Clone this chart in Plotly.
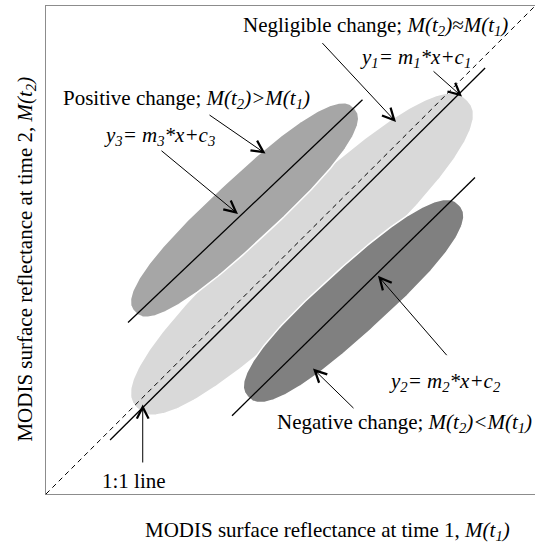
import numpy as np
import plotly.graph_objects as go

# ---- data (unit-square schematic coordinates) ----
ellipse_names = ["Negligible change", "Positive change", "Negative change"]
ellipse_cx = [0.5235, 0.4060, 0.6290]
ellipse_cy = [0.4918, 0.5820, 0.3955]
ellipse_a = [0.4625, 0.307, 0.2925]
ellipse_b = [0.095, 0.0655, 0.0670]
ellipse_deg = [43.0, 43.0, 42.3]
ellipse_colors = ["#d9d9d9", "#a6a6a6", "#808080"]
ellipse_power = 2.5

one_to_one_x = [0.0, 1.0]
one_to_one_y = [0.0, 1.0]

reg1_x = [0.131, 0.898]   # y1 = m1*x + c1
reg1_y = [0.1107, 0.873]
reg3_x = [0.1677, 0.6472]  # y3 = m3*x + c3
reg3_y = [0.3514, 0.808]
reg2_x = [0.3804, 0.8773]  # y2 = m2*x + c2
reg2_y = [0.1604, 0.6486]

label_text = [
    "Negligible change; <i>M(t</i><sub><i>2</i></sub><i>)≈M(t</i><sub><i>1</i></sub><i>)</i>",
    "<i>y</i><sub><i>1</i></sub><i>= m</i><sub><i>1</i></sub><i>*x+c</i><sub><i>1</i></sub>",
    "Positive change; <i>M(t</i><sub><i>2</i></sub><i>)>M(t</i><sub><i>1</i></sub><i>)</i>",
    "<i>y</i><sub><i>3</i></sub><i>= m</i><sub><i>3</i></sub><i>*x+c</i><sub><i>3</i></sub>",
    "<i>y</i><sub><i>2</i></sub><i>= m</i><sub><i>2</i></sub><i>*x+c</i><sub><i>2</i></sub>",
    "Negative change; <i>M(t</i><sub><i>2</i></sub><i>)<M(t</i><sub><i>1</i></sub><i>)</i>",
    "1:1 line",
]
label_x = [0.6728, 0.7546, 0.2863, 0.2331, 0.8160, 0.7321, 0.180]
label_y = [0.9598, 0.8934, 0.8094, 0.7326, 0.2305, 0.1455, 0.0266]

arrow_tail_x = [0.5624, 0.7894, 0.3313, 0.2331, 0.8221, 0.6319, 0.1978]
arrow_tail_y = [0.9270, 0.8689, 0.7787, 0.7059, 0.2814, 0.1730, 0.0615]
arrow_head_x = [0.7157, 0.8507, 0.4489, 0.3926, 0.6789, 0.5460, 0.1978]
arrow_head_y = [0.7623, 0.8143, 0.6975, 0.5738, 0.4471, 0.2570, 0.1836]

x_title = "MODIS surface reflectance at time 1, <i>M(t</i><sub><i>1</i></sub><i>)</i>"
y_title = "MODIS surface reflectance at time 2, <i>M(t</i><sub><i>2</i></sub><i>)</i>"

FONT = "Liberation Serif"
FS = 21

fig = go.Figure()

t = np.linspace(0, 2 * np.pi, 360)
ct, st = np.cos(t), np.sin(t)
pu = np.sign(ct) * np.abs(ct) ** (2 / ellipse_power)
pv = np.sign(st) * np.abs(st) ** (2 / ellipse_power)
for name, cx, cy, a, b, deg, col in zip(ellipse_names, ellipse_cx, ellipse_cy,
                                         ellipse_a, ellipse_b, ellipse_deg, ellipse_colors):
    th = np.deg2rad(deg)
    ex = cx + a * pu * np.cos(th) - b * pv * np.sin(th)
    ey = cy + a * pu * np.sin(th) + b * pv * np.cos(th)
    fig.add_trace(go.Scatter(x=ex, y=ey, mode="lines", fill="toself",
                             fillcolor=col, line=dict(width=1.5, color="white"),
                             name=name, hoverinfo="skip", showlegend=False))

fig.add_trace(go.Scatter(x=one_to_one_x, y=one_to_one_y, mode="lines",
                         line=dict(color="black", width=1, dash="5px,4px"),
                         showlegend=False, hoverinfo="skip"))
for xs, ys in [(reg1_x, reg1_y), (reg3_x, reg3_y), (reg2_x, reg2_y)]:
    fig.add_trace(go.Scatter(x=xs, y=ys, mode="lines",
                             line=dict(color="black", width=1.3),
                             showlegend=False, hoverinfo="skip"))

annotations = []
for tx, ty, hx, hy in zip(arrow_tail_x, arrow_tail_y, arrow_head_x, arrow_head_y):
    annotations.append(dict(x=hx, y=hy, ax=tx, ay=ty, xref="x", yref="y",
                            axref="x", ayref="y", text="", showarrow=True,
                            arrowhead=5, arrowsize=2.3, arrowwidth=1,
                            arrowcolor="black"))
for txt, lx, ly in zip(label_text, label_x, label_y):
    annotations.append(dict(x=lx, y=ly, xref="x", yref="y", text=txt,
                            showarrow=False, xanchor="center", yanchor="middle",
                            font=dict(family=FONT, size=FS, color="black")))
annotations.append(dict(x=0.5759, y=-0.0758, xref="paper", yref="paper",
                        text=x_title, showarrow=False, xanchor="center",
                        yanchor="middle",
                        font=dict(family=FONT, size=FS, color="black")))
annotations.append(dict(x=-0.0417, y=0.4816, xref="paper", yref="paper",
                        text=y_title, showarrow=False, textangle=-90,
                        xanchor="center", yanchor="middle",
                        font=dict(family=FONT, size=FS, color="black")))

fig.update_layout(
    width=535, height=546,
    margin=dict(l=46, r=0, t=6, b=52),
    paper_bgcolor="white", plot_bgcolor="white",
    showlegend=False,
    annotations=annotations,
    xaxis=dict(range=[0, 1], showgrid=False, zeroline=False, showticklabels=False,
               ticks="", showline=True, mirror=True, linecolor="#8c8c8c", linewidth=1),
    yaxis=dict(range=[0, 1], showgrid=False, zeroline=False, showticklabels=False,
               ticks="", showline=True, mirror=False, linecolor="#8c8c8c", linewidth=1),
)

fig.write_html("out.html", config={"displayModeBar": False},
               post_script="document.body.style.margin='0';")
